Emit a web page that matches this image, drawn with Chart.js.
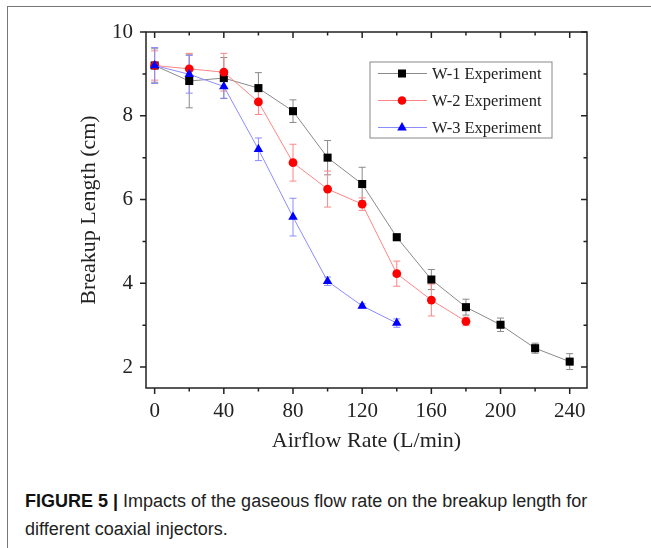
<!DOCTYPE html>
<html>
<head>
<meta charset="utf-8">
<script src="https://cdn.jsdelivr.net/npm/chart.js@4.4.1/dist/chart.umd.min.js"></script>
<style>
  html, body { margin: 0; padding: 0; background: #fff; }
  body { width: 651px; height: 548px; position: relative; overflow: hidden; }
  #frame { position: absolute; left: 7px; top: 6px; width: 660px; height: 560px;
           border-top: 1.5px solid #777; border-left: 1.5px solid #777; }
  #wrap { position: absolute; left: 0; top: 0; width: 651px; height: 460px; }
  #caption { position: absolute; left: 25px; top: 487px; width: 575px;
             font-family: "Liberation Sans", Arial, sans-serif; font-size: 18px;
             line-height: 28px; color: #222; }
  #caption b { color: #111; }
</style>
</head>
<body>
<div id="frame"></div>
<div id="wrap"><canvas id="breakupChart" width="651" height="460"></canvas></div>
<div id="caption"><b>FIGURE 5 |</b> Impacts of the gaseous flow rate on the breakup length for different coaxial injectors.</div>
<script>
// airflow rate (L/min)
const flowW1 = [0, 20, 40, 60, 80, 100, 120, 140, 160, 180, 200, 220, 240];
const flowW2 = [0, 20, 40, 60, 80, 100, 120, 140, 160, 180];
const flowW3 = [0, 20, 40, 60, 80, 100, 120, 140];

// breakup length (cm) and error half-widths
const lenW1 = [9.20, 8.83, 8.90, 8.66, 8.11, 7.00, 6.37, 5.10, 4.09, 3.43, 3.01, 2.45, 2.13];
const errW1 = [0.40, 0.64, 0.49, 0.37, 0.27, 0.41, 0.40, 0.08, 0.24, 0.19, 0.16, 0.12, 0.19];
const lenW2 = [9.20, 9.12, 9.04, 8.33, 6.88, 6.25, 5.89, 4.23, 3.60, 3.09];
const errW2 = [0.35, 0.37, 0.45, 0.30, 0.44, 0.43, 0.15, 0.30, 0.38, 0.10];
const lenW3 = [9.20, 8.99, 8.70, 7.20, 5.58, 4.05, 3.46, 3.05];
const errW3 = [0.43, 0.45, 0.28, 0.27, 0.45, 0.10, 0.05, 0.10];

const xTicks = [0, 40, 80, 120, 160, 200, 240];
const xMinor = [20, 60, 100, 140, 180, 220];
const yTicks = [2, 4, 6, 8, 10];
const yMinor = [3, 5, 7, 9];

const seriesNames = ['W-1 Experiment', 'W-2 Experiment', 'W-3 Experiment'];

function pts(xs, ys, es) {
  return xs.map((x, i) => ({ x: x, y: ys[i], err: es[i] }));
}

const serif = '"Liberation Serif", "Times New Roman", serif';

// error bars under the markers
const errorBars = {
  id: 'errorBars',
  beforeDatasetsDraw(chart) {
    const ctx = chart.ctx;
    const xs = chart.scales.x, ys = chart.scales.y;
    chart.data.datasets.forEach(ds => {
      ctx.save();
      ctx.strokeStyle = ds.borderColor;
      ctx.lineWidth = 1;
      ds.data.forEach(p => {
        const px = xs.getPixelForValue(p.x);
        const top = ys.getPixelForValue(p.y + p.err);
        const bot = ys.getPixelForValue(p.y - p.err);
        ctx.beginPath();
        ctx.moveTo(px, top); ctx.lineTo(px, bot);
        ctx.moveTo(px - 3.5, top); ctx.lineTo(px + 3.5, top);
        ctx.moveTo(px - 3.5, bot); ctx.lineTo(px + 3.5, bot);
        ctx.stroke();
      });
      ctx.restore();
    });
  }
};

// boxed frame with outward ticks on left/bottom, inward on top/right
const frameTicks = {
  id: 'frameTicks',
  afterDraw(chart) {
    const ctx = chart.ctx;
    const a = chart.chartArea;
    const xs = chart.scales.x, ys = chart.scales.y;
    ctx.save();
    ctx.strokeStyle = '#222';
    ctx.lineWidth = 1.5;
    ctx.strokeRect(a.left, a.top, a.right - a.left, a.bottom - a.top);
    ctx.beginPath();
    const xt = (v, len) => {
      const px = xs.getPixelForValue(v);
      ctx.moveTo(px, a.bottom); ctx.lineTo(px, a.bottom + len);
      ctx.moveTo(px, a.top); ctx.lineTo(px, a.top + len);
    };
    const yt = (v, len) => {
      const py = ys.getPixelForValue(v);
      ctx.moveTo(a.left, py); ctx.lineTo(a.left - len, py);
      ctx.moveTo(a.right, py); ctx.lineTo(a.right - len, py);
    };
    xTicks.forEach(v => xt(v, 6));
    xMinor.forEach(v => xt(v, 3.5));
    yTicks.forEach(v => yt(v, 6));
    yMinor.forEach(v => yt(v, 3.5));
    ctx.stroke();
    ctx.restore();
  }
};

function drawMarker(ctx, style, x, y) {
  if (style === 'rect') ctx.rect(x - 4, y - 4, 8, 8);
  else if (style === 'circle') ctx.arc(x, y, 4.3, 0, Math.PI * 2);
  else { ctx.moveTo(x, y - 5.5); ctx.lineTo(x + 4.8, y + 3); ctx.lineTo(x - 4.8, y + 3); ctx.closePath(); }
}

// legend box inside the plot
const boxLegend = {
  id: 'boxLegend',
  afterDraw(chart) {
    const ctx = chart.ctx;
    const bx = 370, by = 62, bw = 182, bh = 76;
    ctx.save();
    ctx.strokeStyle = '#888';
    ctx.lineWidth = 1;
    ctx.strokeRect(bx, by, bw, bh);
    ctx.font = '16.5px ' + serif;
    ctx.textBaseline = 'middle';
    [0, 1, 2].forEach(i => {
      const ds = chart.data.datasets[i];
      const y = by + 11.5 + i * 27;
      ctx.strokeStyle = ds.borderColor;
      ctx.beginPath();
      ctx.moveTo(bx + 8, y); ctx.lineTo(bx + 57, y);
      ctx.stroke();
      ctx.fillStyle = ds.pointBackgroundColor;
      ctx.beginPath();
      drawMarker(ctx, ds.pointStyle, bx + 32, y);
      ctx.fill();
      ctx.fillStyle = '#222';
      ctx.fillText(ds.label, bx + 62, y + 1);
    });
    ctx.restore();
  }
};

new Chart(document.getElementById('breakupChart'), {
  type: 'scatter',
  data: {
    datasets: [
      {
        label: seriesNames[0],
        data: pts(flowW1, lenW1, errW1),
        showLine: true,
        borderColor: '#8a8a8a',
        borderWidth: 1,
        pointStyle: 'rect',
        pointRadius: 5.7,
        pointBackgroundColor: '#000',
        pointBorderColor: '#000',
        pointBorderWidth: 0,
        order: 3,
      },
      {
        label: seriesNames[1],
        data: pts(flowW2, lenW2, errW2),
        showLine: true,
        borderColor: '#ff8585',
        borderWidth: 1,
        pointStyle: 'circle',
        pointRadius: 4.4,
        pointBackgroundColor: '#ff0000',
        pointBorderColor: '#ff0000',
        pointBorderWidth: 0,
        order: 2,
      },
      {
        label: seriesNames[2],
        data: pts(flowW3, lenW3, errW3),
        showLine: true,
        borderColor: '#8c8cff',
        borderWidth: 1,
        pointStyle: 'triangle',
        pointRadius: 5.5,
        pointBackgroundColor: '#0000ff',
        pointBorderColor: '#0000ff',
        pointBorderWidth: 0,
        order: 1,
      },
    ],
  },
  options: {
    responsive: false,
    animation: false,
    layout: { padding: { top: 32, right: 64, left: 0, bottom: 0 } },
    plugins: { legend: { display: false }, tooltip: { enabled: false } },
    scales: {
      x: {
        type: 'linear',
        min: -5,
        max: 250,
        afterBuildTicks: s => { s.ticks = xTicks.map(v => ({ value: v })); },
        afterFit: s => { s.height = 72; },
        grid: { display: false, drawTicks: false },
        border: { display: false },
        ticks: { padding: 11, color: '#222', font: { family: serif, size: 21 } },
        title: { display: true, text: 'Airflow Rate (L/min)', color: '#222',
                 padding: { top: 0, bottom: 6 }, font: { family: serif, size: 22 } },
      },
      y: {
        min: 1.5,
        max: 10,
        afterBuildTicks: s => { s.ticks = yTicks.map(v => ({ value: v })); },
        afterFit: s => { s.width = 146; },
        grid: { display: false, drawTicks: false },
        border: { display: false },
        ticks: { padding: 13, color: '#222', font: { family: serif, size: 21 } },
        title: { display: true, text: 'Breakup Length (cm)', color: '#222',
                 padding: { top: 76, bottom: 0 }, font: { family: serif, size: 22 } },
      },
    },
  },
  plugins: [errorBars, frameTicks, boxLegend],
});
</script>
</body>
</html>
